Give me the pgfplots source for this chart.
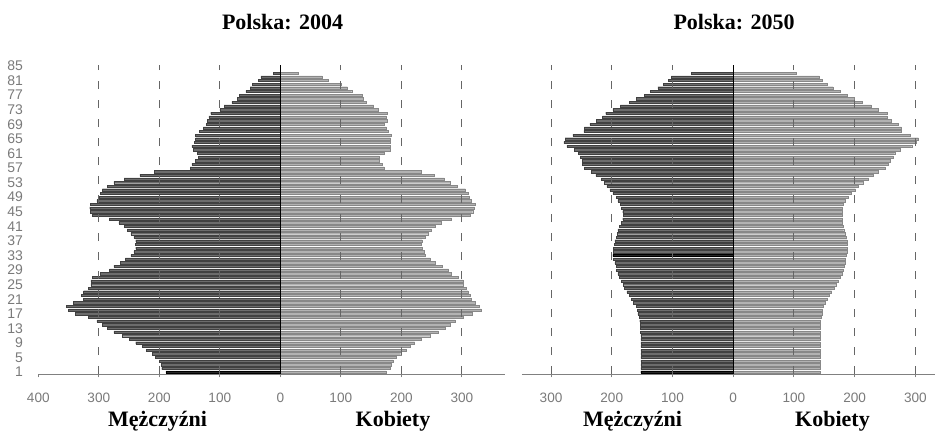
\documentclass[border=0pt]{standalone}
\usepackage{fontspec}
\setmainfont{Liberation Serif}
\setsansfont{Liberation Sans}
\usepackage{pgfplots}
\usepackage{pgfplotstable}
\pgfplotsset{compat=1.18}

\definecolor{mfill}{HTML}{6C6C6C}
\definecolor{mdraw}{HTML}{404040}
\definecolor{ffill}{HTML}{B2B2B2}
\definecolor{fdraw}{HTML}{888888}
\definecolor{ticktext}{HTML}{7A7A7A}

% i = bar index (age row), M = men, F = women (thousands)
\pgfplotstableread{
i M F
1 189 175
2 196 181
3 197 183
4 200 186
5 206 192
6 211 199
7 221 208
8 228 214
9 239 222
10 250 233
11 261 247
12 275 261
13 286 272
14 294 281
15 303 289
16 317 302
17 339 317
18 350 332
19 354 328
20 342 322
21 325 316
22 329 314
23 325 310
24 317 307
25 313 302
26 313 302
27 311 294
28 297 283
29 282 278
30 275 267
31 264 256
32 256 247
33 247 240
34 242 238
35 239 234
36 240 233
37 239 234
38 242 239
39 247 244
40 253 250
41 258 256
42 267 266
43 283 283
44 311 314
45 314 318
46 315 321
47 314 322
48 303 316
49 300 312
50 297 310
51 294 306
52 286 293
53 275 281
54 258 271
55 232 255
56 208 233
57 149 171
58 146 168
59 140 163
60 135 163
61 137 172
62 144 181
63 146 182
64 142 182
65 140 182
66 140 184
67 134 179
68 127 175
69 122 171
70 121 177
71 118 175
72 115 177
73 100 162
74 93 154
75 80 142
76 71 137
77 68 136
78 57 118
79 50 111
80 46 100
81 36 79
82 32 69
83 12 29
}\dataA

\pgfplotstableread{
i M F
1 152 143
2 152 143
3 152 143
4 152 143
5 152 143
6 152 143
7 152 143
8 152 143
9 152 143
10 152 143
11 152 143
12 153 143
13 153 143
14 153 144
15 154 144
16 155 145
17 157 146
18 158 147
19 160 149
20 164 152
21 168 155
22 171 158
23 175 162
24 179 166
25 181 169
26 184 173
27 187 176
28 190 179
29 192 181
30 193 183
31 195 184
32 197 185
33 198 186
34 197 187
35 197 187
36 196 187
37 195 187
38 193 186
39 191 184
40 190 182
41 187 181
42 184 180
43 182 180
44 181 179
45 182 179
46 184 179
47 186 181
48 190 184
49 193 190
50 198 195
51 203 201
52 208 206
53 212 214
54 217 223
55 226 231
56 234 239
57 245 250
58 248 255
59 249 258
60 252 263
61 255 266
62 262 275
63 274 294
64 279 302
65 277 305
66 264 291
67 246 277
68 245 277
69 236 271
70 225 261
71 215 253
72 210 253
73 198 239
74 186 227
75 171 213
76 159 200
77 146 188
78 136 177
79 124 164
80 115 155
81 107 147
82 102 142
83 69 104
}\dataB

% dark highlighted bars
\pgfplotstableread{
i M
1 189
}\darkA
\pgfplotstableread{
i M
1 152
33 198
}\darkB

\pgfplotsset{
  pyr/.style={
    scale only axis,
    height=154.65pt,
    ymin=0.4, ymax=85.3,
    axis lines*=left,
    y axis line style={draw=none},
    x axis line style={draw=gray, line width=0.6pt},
    axis on top,
    xtick={-400,-300,...,300},
    xticklabels={400,300,200,100,0,100,200,300},
    xtick style={draw=gray, line width=0.5pt},
    tick align=outside,
    major tick length=1.6pt,
    ytick style={draw=none},
    tick label style={font=\sffamily\fontsize{6.8}{7}\selectfont, text=ticktext},
    /pgf/number format/assume math mode=true,
    xticklabel style={yshift=-4.3pt},
    extra x ticks={-300,-200,-100,100,200,300},
    extra x tick labels={,,,,,},
    extra x tick style={grid=major, major tick length=0pt},
    major grid style={draw=black!60, line width=0.5pt, dash pattern=on 4pt off 5.5pt},
    clip=false,
  },
  menbar/.style={xbar, bar width=0.62, bar shift=0pt, fill=mfill, draw=mdraw, line width=0.2pt},
  wombar/.style={xbar, bar width=0.62, bar shift=0pt, fill=ffill, draw=fdraw, line width=0.2pt},
  darkbar/.style={xbar, bar width=0.62, bar shift=0pt, fill=black!85, draw=black, line width=0.2pt},
}

\begin{document}
\begin{tikzpicture}
\useasboundingbox (0,0) rectangle (467.5pt,215pt);

\begin{axis}[pyr,
  at={(19.15pt,27.9pt)}, anchor=south west,
  width=233.25pt,
  xmin=-400, xmax=371,
  ytick={1,5,...,85},
  yticklabel style={font=\sffamily\fontsize{7}{7}\selectfont, xshift=-2.5pt},
]
\addplot[menbar] table[x expr=-\thisrow{M}, y=i] {\dataA};
\addplot[wombar] table[x=F, y=i] {\dataA};
\addplot[darkbar] table[x expr=-\thisrow{M}, y=i] {\darkA};
\draw[black, line width=0.6pt] (axis cs:0,0.4) -- (axis cs:0,85.3);
\end{axis}

\begin{axis}[pyr,
  at={(260.95pt,27.9pt)}, anchor=south west,
  width=206.45pt,
  xmin=-348, xmax=332,
  xtick={-300,-200,...,300},
  xticklabels={300,200,100,0,100,200,300},
  ytick=\empty,
]
\addplot[menbar] table[x expr=-\thisrow{M}, y=i] {\dataB};
\addplot[wombar] table[x=F, y=i] {\dataB};
\addplot[darkbar] table[x expr=-\thisrow{M}, y=i] {\darkB};
\draw[black, line width=0.6pt] (axis cs:0,0.4) -- (axis cs:0,85.3);
\end{axis}

\begin{scope}[every node/.style={font=\bfseries\fontsize{11}{13}\selectfont, inner sep=0pt}]
\node[anchor=base] at (141.25pt,200.35pt) {Polska: 2004};
\node[anchor=base] at (367pt,200.35pt) {Polska: 2050};
\node[anchor=base] at (78.75pt,2pt) {Mężczyźni};
\node[anchor=base] at (196.5pt,2pt) {Kobiety};
\node[anchor=base] at (316.25pt,2pt) {Mężczyźni};
\node[anchor=base] at (416.25pt,2pt) {Kobiety};
\end{scope}
\end{tikzpicture}
\end{document}
